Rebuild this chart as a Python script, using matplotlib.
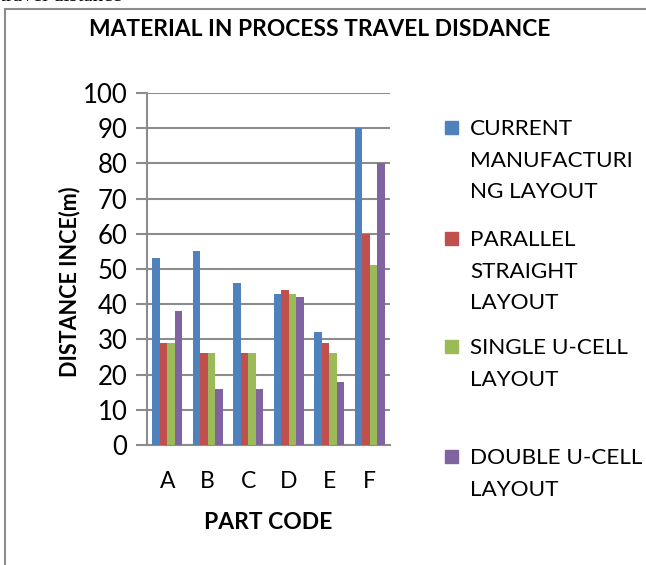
import matplotlib
matplotlib.use("Agg")
import matplotlib.pyplot as plt
from matplotlib.lines import Line2D
from matplotlib.patches import Rectangle
import numpy as np

plt.rcParams['font.family'] = ['Lato', 'DejaVu Sans']

parts = ['A', 'B', 'C', 'D', 'E', 'F']
current = [53, 55, 46, 43, 32, 90]
parallel = [29, 26, 26, 44, 29, 60]
single_u = [29, 26, 26, 43, 26, 51]
double_u = [38, 16, 16, 42, 18, 80]

series = [current, parallel, single_u, double_u]
labels = ['CURRENT\nMANUFACTURI\nNG LAYOUT',
          'PARALLEL\nSTRAIGHT\nLAYOUT',
          'SINGLE U-CELL\nLAYOUT',
          'DOUBLE U-CELL\nLAYOUT']
colors = ['#4F81BD', '#C0504D', '#9BBB59', '#8064A2']

W, H = 646, 565
fig = plt.figure(figsize=(W / 100, H / 100), dpi=100)

# page frame + cut off caption above
fig.add_artist(Line2D([5 / W, 5 / W], [0, 1 - 9 / H], color='#8c8c8c', lw=1.5))
fig.add_artist(Line2D([5 / W, 1], [1 - 9 / H, 1 - 9 / H], color='#8c8c8c', lw=1.5))
fig.text(0.0, 1 - 1 / H, 'travel distance', family='Liberation Serif',
         fontsize=15, va='baseline', ha='left')

ax = fig.add_axes([147 / W, 1 - 445 / H, 243 / W, 352 / H])

x = np.arange(len(parts))
bw = 0.185
for i, (vals, c) in enumerate(zip(series, colors)):
    ax.bar(x + (i - 1.5) * bw, vals, bw, color=c, zorder=3)

ax.set_xlim(-0.5, 5.5)
ax.set_ylim(0, 100)
ax.set_yticks(range(0, 101, 10))
ax.set_xticks(x)
ax.set_xticklabels(parts, fontsize=16.5)
ax.tick_params(axis='y', labelsize=18.5, length=8, width=1.5, color='#8c8c8c', pad=6)
ax.tick_params(axis='x', length=0, pad=19)
ax.grid(axis='y', color='#8c8c8c', lw=1.5, zorder=0)
for s in ['top', 'right']:
    ax.spines[s].set_visible(False)
for s in ['left', 'bottom']:
    ax.spines[s].set_color('#8c8c8c')
    ax.spines[s].set_linewidth(1.5)

ax.set_xlabel('PART CODE', fontsize=16.5, fontweight='bold', labelpad=14)
ax.set_ylabel('DISTANCE INCE(m)', fontsize=15.5, fontweight='bold')
ax.yaxis.set_label_coords(-0.275, 0.465)

fig.text(320 / W, 1 - 30 / H, 'MATERIAL IN PROCESS TRAVEL DISDANCE',
         fontsize=16.4, fontweight='bold', ha='center', va='center')

# legend
leg_y = [127, 238, 346, 456]
for lab, c, yy in zip(labels, colors, leg_y):
    fig.add_artist(Rectangle((445 / W, 1 - (yy + 7) / H), 13 / W, 13 / H,
                             color=c, transform=fig.transFigure))
    fig.text(470 / W, 1 - (yy - 8) / H, lab, fontsize=16.2, va='top', ha='left',
             linespacing=1.72)

fig.savefig('out.png', dpi=100)
